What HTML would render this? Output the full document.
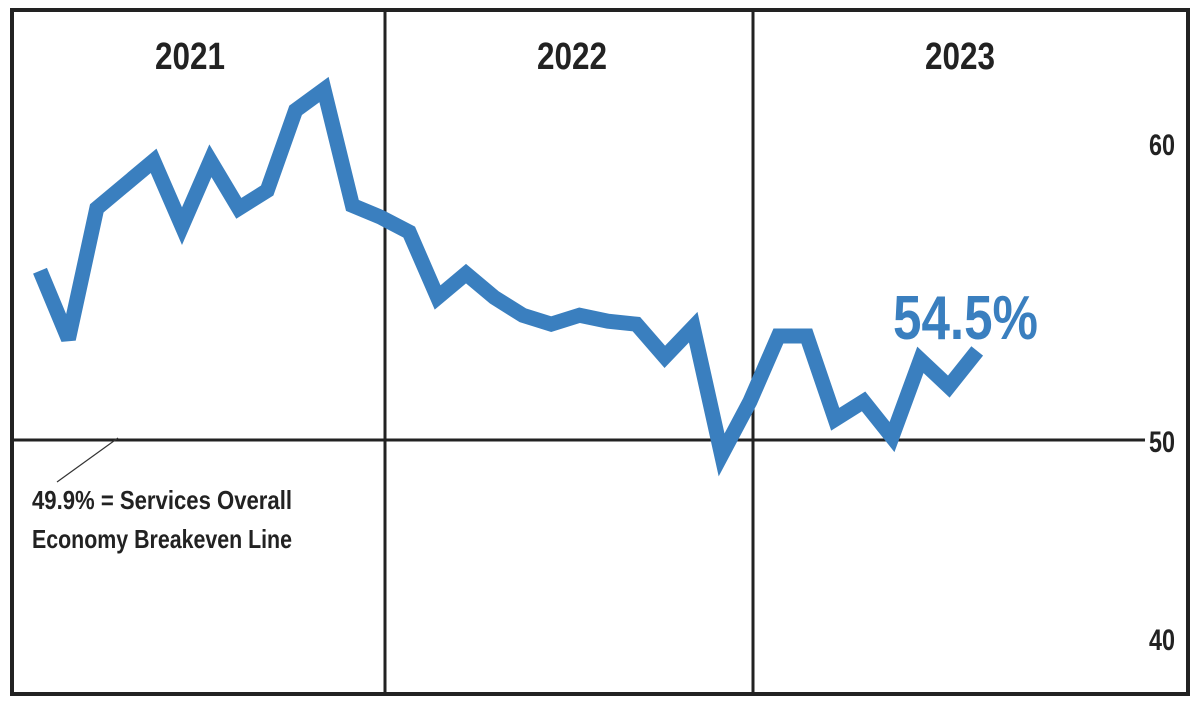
<!DOCTYPE html>
<html><head><meta charset="utf-8"><style>
html,body{margin:0;padding:0;background:#fff;}
svg{display:block;}
text{font-family:"Liberation Sans Narrow","Liberation Sans",sans-serif;font-weight:bold;}
</style></head><body>
<svg id="chart" width="1200" height="710" viewBox="0 0 1200 710">
  <rect x="12" y="10" width="1176" height="684" fill="#fff" stroke="#222" stroke-width="4"/>
  <line x1="385" y1="10" x2="385" y2="694" stroke="#222" stroke-width="3"/>
  <line x1="753" y1="10" x2="753" y2="694" stroke="#222" stroke-width="3"/>
  <line x1="12" y1="440" x2="1145" y2="440" stroke="#222" stroke-width="3"/>
  <line x1="118" y1="438" x2="57" y2="482" stroke="#333" stroke-width="1.2"/>
  <text x="32" y="509" font-size="26" fill="#222" textLength="260" lengthAdjust="spacingAndGlyphs">49.9% = Services Overall</text>
  <text x="32" y="548" font-size="26" fill="#222" textLength="260" lengthAdjust="spacingAndGlyphs">Economy Breakeven Line</text>
  <g id="years"></g>
  <g id="ticks"></g>
  <g id="series"></g>
  <text x="893" y="339" font-size="62" fill="#3a7fbf" textLength="145" lengthAdjust="spacingAndGlyphs">54.5%</text>
</svg>
<script>
const years = ["2021","2022","2023"];
const yearCenters = [190, 572, 960];
const tickLabels = ["60","50","40"];
const tickY = [143, 440, 638];
const values = [55.7,53.4,57.8,58.6,59.4,57.2,59.4,57.8,58.4,61.1,61.8,57.9,57.5,57.0,54.8,55.6,54.8,54.2,53.9,54.2,54.0,53.9,52.8,53.8,49.5,51.3,53.5,53.5,50.7,51.3,50.1,52.7,51.8,53.0];

const NS="http://www.w3.org/2000/svg";
const xScale = i => 40 + i*28.4;
const yScale = v => 440 - (v-50)*29.7;

const yg=document.getElementById('years');
years.forEach((y,i)=>{
  const t=document.createElementNS(NS,'text');
  t.setAttribute('x',yearCenters[i]-35);t.setAttribute('y',69);
  t.setAttribute('font-size','38');t.setAttribute('fill','#222');
  t.setAttribute('textLength','70');t.setAttribute('lengthAdjust','spacingAndGlyphs');
  
  
  t.textContent=y;yg.appendChild(t);
});
const tg=document.getElementById('ticks');
tickLabels.forEach((l,i)=>{
  const t=document.createElementNS(NS,'text');
  t.setAttribute('x',1149);t.setAttribute('y',tickY[i]+12);
  t.setAttribute('font-size','30');t.setAttribute('fill','#222');
  t.setAttribute('textLength','26');t.setAttribute('lengthAdjust','spacingAndGlyphs');
  
  
  t.textContent=l;tg.appendChild(t);
});
const p=document.createElementNS(NS,'polyline');
p.setAttribute('points',values.map((v,i)=>xScale(i)+','+yScale(v)).join(' '));
p.setAttribute('fill','none');p.setAttribute('stroke','#3a7fbf');p.setAttribute('stroke-width','15');
p.setAttribute('stroke-linejoin','miter');p.setAttribute('stroke-miterlimit','3');


document.getElementById('series').appendChild(p);
</script>
</body></html>
